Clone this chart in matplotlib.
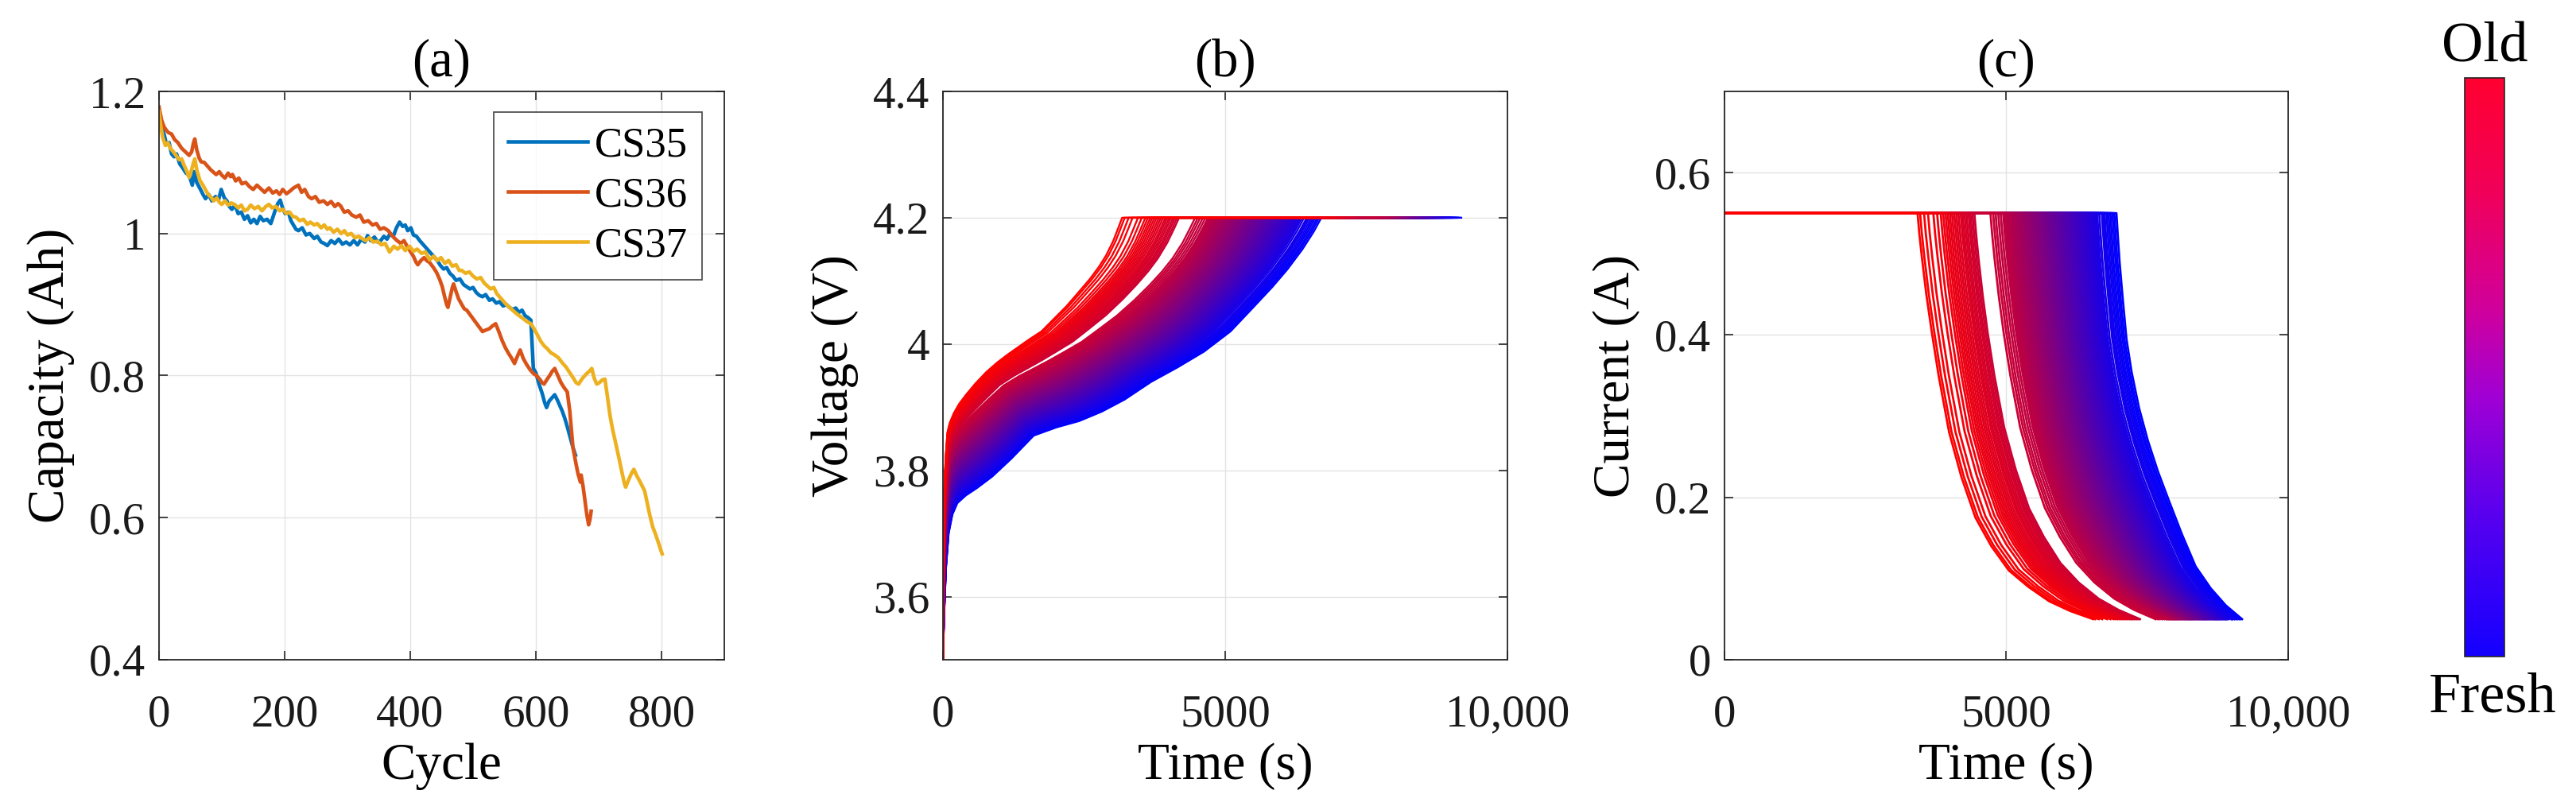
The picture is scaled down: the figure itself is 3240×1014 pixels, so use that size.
import numpy as np
import matplotlib
matplotlib.use("Agg")
import matplotlib.pyplot as plt
from matplotlib.colors import LinearSegmentedColormap
from matplotlib.cm import ScalarMappable

plt.rcParams['font.family'] = 'serif'
plt.rcParams['font.serif'] = ['Liberation Serif', 'DejaVu Serif']

# ---- (a) capacity fade, (cycle, Ah) ----
cs35 = [(0, 1.172), (4, 1.15), (8, 1.14), (12, 1.125), (16, 1.128), (20, 1.112), (24, 1.108), (28, 1.112),
        (33, 1.098), (38, 1.092), (43, 1.085), (48, 1.082), (53, 1.068), (56, 1.087), (60, 1.072), (66, 1.062),
        (70, 1.055), (74, 1.049), (79, 1.055), (84, 1.046), (90, 1.052), (95, 1.048), (99, 1.062), (104, 1.05),
        (108, 1.046), (112, 1.038), (116, 1.034), (121, 1.04), (126, 1.028), (131, 1.03), (136, 1.02), (141, 1.025),
        (146, 1.015), (151, 1.02), (156, 1.014), (161, 1.024), (166, 1.018), (172, 1.02), (178, 1.014), (184, 1.03),
        (189, 1.042), (193, 1.047), (197, 1.035), (201, 1.028), (206, 1.03), (210, 1.018), (214, 1.012), (218, 1.006),
        (222, 1.004), (228, 1.008), (234, 0.998), (240, 1.0), (247, 0.993), (252, 0.996), (258, 0.988), (263, 0.986),
        (268, 0.983), (274, 0.99), (280, 0.986), (286, 0.992), (292, 0.985), (298, 0.988), (304, 0.984), (310, 0.99),
        (316, 0.984), (322, 0.992), (328, 0.988), (332, 0.997), (337, 0.99), (343, 0.995), (348, 0.988), (353, 0.99),
        (358, 0.996), (363, 0.992), (368, 1.0), (373, 0.996), (378, 1.008), (383, 1.016), (388, 1.01), (392, 1.012),
        (396, 1.004), (401, 1.008), (405, 0.998), (410, 0.996), (415, 0.99), (419, 0.986), (425, 0.98), (431, 0.974),
        (437, 0.968), (443, 0.962), (448, 0.955), (453, 0.95), (458, 0.952), (463, 0.944), (468, 0.94), (473, 0.934),
        (479, 0.936), (485, 0.928), (490, 0.925), (495, 0.922), (500, 0.924), (505, 0.917), (510, 0.913), (515, 0.911),
        (520, 0.914), (526, 0.906), (531, 0.908), (537, 0.902), (542, 0.904), (548, 0.898), (553, 0.9), (558, 0.896),
        (563, 0.893), (568, 0.895), (573, 0.889), (578, 0.892), (583, 0.884), (587, 0.882), (592, 0.878), (594, 0.845),
        (596, 0.81), (600, 0.804), (605, 0.788), (610, 0.775), (614, 0.762), (617, 0.755), (621, 0.764), (625, 0.768),
        (630, 0.773), (634, 0.766), (638, 0.758), (642, 0.75), (646, 0.74), (650, 0.728), (655, 0.712), (659, 0.699),
        (663, 0.688)]

cs36 = [(0, 1.178), (4, 1.16), (8, 1.15), (12, 1.145), (15, 1.142), (20, 1.14), (25, 1.132), (30, 1.128),
        (36, 1.12), (42, 1.115), (48, 1.11), (52, 1.115), (55, 1.128), (57, 1.133), (60, 1.118), (64, 1.106),
        (67, 1.101), (72, 1.1), (77, 1.095), (82, 1.09), (87, 1.086), (91, 1.083), (96, 1.087), (100, 1.082),
        (105, 1.078), (110, 1.085), (114, 1.08), (117, 1.083), (122, 1.074), (127, 1.078), (132, 1.07), (138, 1.072),
        (144, 1.066), (150, 1.062), (156, 1.068), (162, 1.063), (168, 1.058), (175, 1.064), (181, 1.057), (187, 1.06),
        (192, 1.055), (197, 1.062), (203, 1.056), (209, 1.06), (214, 1.064), (218, 1.066), (222, 1.068), (227, 1.058),
        (232, 1.062), (238, 1.052), (243, 1.049), (249, 1.052), (255, 1.044), (262, 1.046), (268, 1.041), (274, 1.045),
        (280, 1.038), (285, 1.042), (289, 1.039), (295, 1.03), (301, 1.032), (307, 1.026), (314, 1.023), (320, 1.026),
        (326, 1.016), (333, 1.018), (340, 1.012), (346, 1.014), (352, 1.006), (358, 1.008), (365, 1.004), (372, 0.996),
        (379, 0.99), (385, 0.986), (390, 0.99), (395, 0.982), (400, 0.975), (405, 0.968), (409, 0.96), (412, 0.956),
        (417, 0.962), (422, 0.966), (426, 0.962), (431, 0.959), (437, 0.952), (442, 0.945), (447, 0.935), (451, 0.925),
        (455, 0.91), (458, 0.9), (460, 0.896), (464, 0.912), (467, 0.924), (469, 0.929), (473, 0.918), (477, 0.908),
        (482, 0.9), (486, 0.894), (490, 0.892), (495, 0.886), (500, 0.88), (505, 0.874), (510, 0.868), (515, 0.862),
        (520, 0.864), (526, 0.866), (531, 0.87), (536, 0.873), (541, 0.862), (546, 0.85), (551, 0.84), (556, 0.832),
        (561, 0.825), (566, 0.817), (570, 0.826), (575, 0.836), (580, 0.824), (585, 0.816), (591, 0.808), (596, 0.803),
        (601, 0.8), (606, 0.795), (610, 0.79), (613, 0.788), (618, 0.795), (622, 0.8), (626, 0.806), (630, 0.81),
        (635, 0.8), (640, 0.79), (645, 0.783), (650, 0.777), (654, 0.75), (659, 0.699), (663, 0.68), (667, 0.662),
        (671, 0.65), (672, 0.66), (675, 0.645), (678, 0.625), (681, 0.605), (684, 0.59), (686, 0.597), (688, 0.609)]

cs37 = [(0, 1.172), (3, 1.15), (6, 1.135), (10, 1.124), (14, 1.128), (18, 1.12), (22, 1.116), (27, 1.11),
        (32, 1.104), (36, 1.105), (40, 1.096), (44, 1.088), (48, 1.079), (52, 1.09), (55, 1.1), (57, 1.105),
        (60, 1.09), (65, 1.075), (70, 1.068), (75, 1.06), (79, 1.054), (82, 1.052), (87, 1.046), (92, 1.05),
        (96, 1.044), (100, 1.041), (105, 1.046), (110, 1.04), (115, 1.043), (120, 1.041), (126, 1.036), (131, 1.04),
        (136, 1.032), (141, 1.034), (146, 1.04), (152, 1.035), (158, 1.038), (164, 1.032), (170, 1.038), (175, 1.041),
        (180, 1.036), (186, 1.038), (192, 1.032), (197, 1.034), (203, 1.028), (208, 1.03), (213, 1.024), (218, 1.023),
        (224, 1.018), (230, 1.02), (236, 1.013), (241, 1.016), (247, 1.012), (252, 1.014), (258, 1.008), (263, 1.012),
        (268, 1.006), (272, 1.008), (278, 1.002), (284, 1.006), (290, 1.0), (295, 1.004), (300, 0.998), (306, 1.0),
        (312, 0.994), (318, 0.996), (323, 0.993), (329, 0.99), (335, 0.994), (341, 0.988), (348, 0.989), (354, 0.984),
        (360, 0.986), (367, 0.974), (374, 0.982), (380, 0.978), (386, 0.983), (392, 0.976), (399, 0.982), (405, 0.975),
        (411, 0.978), (418, 0.972), (424, 0.974), (431, 0.963), (437, 0.968), (443, 0.962), (449, 0.966), (455, 0.958),
        (461, 0.962), (467, 0.954), (473, 0.956), (478, 0.948), (482, 0.948), (488, 0.944), (494, 0.946), (500, 0.94),
        (506, 0.936), (512, 0.938), (518, 0.93), (523, 0.926), (528, 0.922), (533, 0.924), (538, 0.915), (543, 0.91),
        (548, 0.905), (553, 0.9), (558, 0.896), (563, 0.892), (568, 0.888), (574, 0.884), (580, 0.88), (586, 0.876),
        (592, 0.873), (597, 0.866), (602, 0.858), (608, 0.848), (613, 0.842), (618, 0.838), (624, 0.832), (630, 0.829),
        (636, 0.825), (642, 0.818), (648, 0.812), (654, 0.804), (660, 0.796), (664, 0.79), (668, 0.788), (674, 0.796),
        (680, 0.802), (685, 0.806), (689, 0.81), (693, 0.796), (697, 0.788), (701, 0.79), (706, 0.794), (710, 0.795),
        (714, 0.77), (718, 0.744), (722, 0.725), (727, 0.705), (732, 0.685), (737, 0.664), (741, 0.648), (743, 0.643),
        (747, 0.652), (752, 0.662), (756, 0.668), (760, 0.66), (765, 0.652), (769, 0.645), (773, 0.638), (777, 0.622),
        (781, 0.605), (786, 0.587), (790, 0.578), (795, 0.565), (801, 0.549)]

# ---- (b)/(c) charge curves, fresh -> old ----
# end of constant-current phase (s) for each cycle
cc_end = [6953, 6915, 6882, 6845, 6812, 6778, 6742, 6718, 6695, 6648,
          6610, 6585, 6562, 6540, 6515, 6490, 6470, 6446, 6422, 6400,
          6376, 6352, 6330, 6305, 6284, 6260, 6236, 6214, 6190, 6168,
          6145, 6120, 6098, 6075, 6052, 6028, 6005, 5982, 5960, 5936,
          5913, 5890, 5866, 5844, 5820, 5798, 5775, 5752, 5728, 5706,
          5682, 5660, 5636, 5614, 5590, 5568, 5545, 5522, 5498, 5476,
          5452, 5430, 5406, 5384, 5360, 5338, 5315, 5292, 5268, 5246,
          5222, 5200, 5176, 5154, 5130, 5108, 5084, 5062, 5038, 5016,
          4992, 4968, 4944, 4900, 4856,
          4809, 4766, 4718, 4433, 4398, 4362, 4330, 4292, 4258, 4222,
          4190, 4150, 4112, 4075, 4036, 3998, 3960, 3922, 3880, 3836,
          3772, 3705, 3610, 3540, 3470, 3425]
knee_lag = 250          # voltage hits 4.2 V this much earlier in (b) than current drops in (c)

# voltage shape vs. fraction of time to 4.2 V (fresh / old edge of the band)
v_frac = [0, 0.003, 0.008, 0.015, 0.025, 0.038, 0.06, 0.09, 0.13, 0.18, 0.24, 0.30, 0.36,
          0.42, 0.48, 0.55, 0.62, 0.69, 0.76, 0.82, 0.87, 0.91, 0.95, 0.98, 1.0]
v_fresh = [3.5, 3.57, 3.645, 3.70, 3.73, 3.748, 3.76, 3.772, 3.79, 3.818, 3.855, 3.868, 3.878,
           3.893, 3.912, 3.94, 3.963, 3.988, 4.02, 4.058, 4.09, 4.118, 4.15, 4.178, 4.2]
v_old = [3.5, 3.66, 3.77, 3.82, 3.86, 3.875, 3.89, 3.905, 3.92, 3.937, 3.955, 3.97, 3.983,
         3.995, 4.007, 4.02, 4.04, 4.06, 4.083, 4.103, 4.122, 4.14, 4.163, 4.185, 4.2]

# current taper vs. fraction of constant-voltage duration
i_frac = [0, 0.01, 0.025, 0.05, 0.08, 0.12, 0.18, 0.25, 0.33, 0.42, 0.52, 0.63, 0.75, 0.87, 1.0]
i_fresh = [0.55, 0.525, 0.49, 0.445, 0.395, 0.355, 0.31, 0.27, 0.232, 0.195, 0.155, 0.115, 0.088, 0.067, 0.05]
i_old = [0.55, 0.525, 0.495, 0.45, 0.405, 0.35, 0.28, 0.225, 0.175, 0.14, 0.11, 0.09, 0.072, 0.06, 0.05]
cv_fresh, cv_old = 2229, 3114
i_cc = 0.55

cbar_stops = [(0.0, '#1400ff'), (0.25, '#5a00ee'), (0.45, '#a000d4'),
              (0.6, '#d0009c'), (0.8, '#f0005a'), (1.0, '#ff0030')]

W, H = 3241, 1014
fig = plt.figure(figsize=(W / 100, H / 100), dpi=100)

def box(x0, x1, y0=115, y1=830):
    return [x0 / W, 1 - y1 / H, (x1 - x0) / W, (y1 - y0) / H]

ax1 = fig.add_axes(box(200, 911))
ax2 = fig.add_axes(box(1186, 1896))
ax3 = fig.add_axes(box(2169, 2878))
cax = fig.add_axes(box(3100, 3150, 98, 826))

dark = '#262626'
for ax in (ax1, ax2, ax3):
    ax.grid(True, color='#e3e3e3', lw=1.0)
    ax.set_axisbelow(True)
    for s in ax.spines.values():
        s.set_color(dark)
        s.set_linewidth(1.3)
    ax.tick_params(direction='in', length=8, width=1.2, colors=dark, labelcolor='#1a1a1a',
                   top=True, right=True, labelsize=41)
    ax.tick_params(axis='x', pad=31)
    ax.tick_params(axis='y', pad=12)

lab = dict(fontsize=47)

# (a)
for data, col, name in [(cs35, '#0072BD', 'CS35'), (cs36, '#D95319', 'CS36'), (cs37, '#EDB120', 'CS37')]:
    cyc, cap = zip(*data)
    ax1.plot(cyc, cap, color=col, lw=3.3, label=name)
ax1.set_xlim(0, 900)
ax1.set_ylim(0.4, 1.2)
ax1.set_xticks([0, 200, 400, 600, 800])
ax1.set_yticks([0.4, 0.6, 0.8, 1.0, 1.2])
ax1.set_yticklabels(['0.4', '0.6', '0.8', '1', '1.2'])
ax1.set_xlabel('Cycle', labelpad=7, **lab)
ax1.set_ylabel('Capacity (Ah)', labelpad=13, **lab)
ax1.set_title('(a)', fontsize=48, pad=14)
leg = ax1.legend(loc='upper right', bbox_to_anchor=(0.9606, 0.9636), borderaxespad=0, fontsize=38,
                 fancybox=False, edgecolor=dark, handlelength=1.9, handletextpad=0.15,
                 labelspacing=0.28, borderpad=0.35)
leg.get_frame().set_linewidth(1.3)

# (b) and (c)
n = len(cc_end)
for k, tc in enumerate(cc_end):
    w = k / (n - 1)
    col = (w, 0.0, 1.0 - w)
    cv_len = (1 - w) * cv_fresh + w * cv_old
    t_end = tc + cv_len
    knee = tc - knee_lag
    volt = (1 - w) * np.array(v_fresh) + w * np.array(v_old)
    tb = np.append(np.array(v_frac) * knee, t_end)
    vb = np.append(volt, 4.2)
    ax2.plot(tb, vb, color=col, lw=1.7)
    cur = (1 - w) * np.array(i_fresh) + w * np.array(i_old)
    tcc = np.concatenate([[0.0], tc + np.array(i_frac) * cv_len])
    icc = np.concatenate([[i_cc], cur])
    ax3.plot(tcc, icc, color=col, lw=2.0)

ax2.set_xlim(0, 10000)
ax2.set_ylim(3.5, 4.4)
ax2.set_xticks([0, 5000, 10000])
ax2.set_xticklabels(['0', '5000', '10,000'])
ax2.set_yticks([3.6, 3.8, 4.0, 4.2, 4.4])
ax2.set_yticklabels(['3.6', '3.8', '4', '4.2', '4.4'])
ax2.set_xlabel('Time (s)', labelpad=7, **lab)
ax2.set_ylabel('Voltage (V)', labelpad=13, **lab)
ax2.set_title('(b)', fontsize=48, pad=14)

ax3.set_xlim(0, 10000)
ax3.set_ylim(0, 0.7)
ax3.set_xticks([0, 5000, 10000])
ax3.set_xticklabels(['0', '5000', '10,000'])
ax3.set_yticks([0, 0.2, 0.4, 0.6])
ax3.set_yticklabels(['0', '0.2', '0.4', '0.6'])
ax3.set_xlabel('Time (s)', labelpad=7, **lab)
ax3.set_ylabel('Current (A)', labelpad=13, **lab)
ax3.set_title('(c)', fontsize=48, pad=14)

# colour bar
cmap = LinearSegmentedColormap.from_list('age', cbar_stops)
cb = fig.colorbar(ScalarMappable(cmap=cmap), cax=cax)
cb.set_ticks([])
cb.outline.set_edgecolor(dark)
cb.outline.set_linewidth(1.2)
fig.text(3125 / W, 1 - 78 / H, 'Old', fontsize=52, ha='center', va='baseline')
fig.text(3135 / W, 1 - 896 / H, 'Fresh', fontsize=52, ha='center', va='baseline')

fig.savefig('out.png', dpi=100, facecolor='white')
